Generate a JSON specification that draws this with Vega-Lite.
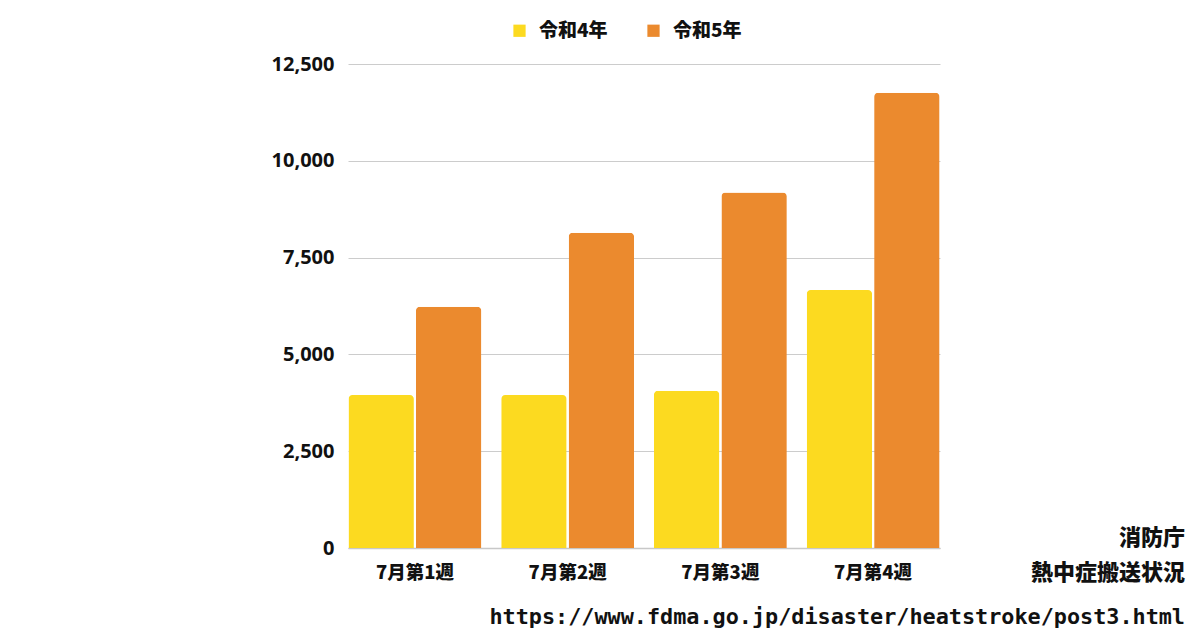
{
  "$schema": "https://vega.github.io/schema/vega-lite/v6.json",
  "autosize": "none",
  "width": 592,
  "height": 484,
  "padding": {"left": 348, "top": 64, "right": 260, "bottom": 82},
  "background": "white",
  "config": {
    "font": "Noto Sans CJK JP",
    "view": {"stroke": null}
  },
  "title": {
    "text": ["消防庁", "熱中症搬送状況"],
    "subtitle": "https://www.fdma.go.jp/disaster/heatstroke/post3.html",
    "orient": "bottom",
    "anchor": "end",
    "align": "right",
    "frame": "group",
    "dx": 245,
    "offset": -54,
    "font": "Noto Sans CJK JP",
    "fontSize": 22,
    "fontWeight": 900,
    "lineHeight": 35,
    "color": "#111111",
    "subtitleFont": "DejaVu Sans Mono",
    "subtitleFontSize": 21.8,
    "subtitleFontWeight": "bold",
    "subtitleColor": "#111111",
    "subtitlePadding": 22
  },
  "data": {
    "values": [
      {"week": "7月第1週", "year": "令和4年", "count": 3950},
      {"week": "7月第1週", "year": "令和5年", "count": 6230},
      {"week": "7月第2週", "year": "令和4年", "count": 3950},
      {"week": "7月第2週", "year": "令和5年", "count": 8140},
      {"week": "7月第3週", "year": "令和4年", "count": 4060},
      {"week": "7月第3週", "year": "令和5年", "count": 9180},
      {"week": "7月第4週", "year": "令和4年", "count": 6660},
      {"week": "7月第4週", "year": "令和5年", "count": 11760}
    ]
  },
  "mark": {"type": "bar", "cornerRadiusTopLeft": 4, "cornerRadiusTopRight": 4},
  "encoding": {
    "x": {
      "field": "week",
      "type": "nominal",
      "sort": null,
      "scale": {"paddingInner": 0.13, "paddingOuter": 0.003},
      "axis": {
        "title": null,
        "labelAngle": 0,
        "labelFontSize": 18.5,
        "labelFontWeight": 900,
        "labelColor": "#111111",
        "labelPadding": 15,
        "ticks": false,
        "domain": true,
        "domainColor": "#c8c8c8",
        "domainWidth": 1.5
      }
    },
    "xOffset": {"field": "year", "type": "nominal", "scale": {"paddingInner": 0.03}},
    "y": {
      "field": "count",
      "type": "quantitative",
      "scale": {"domain": [0, 12500]},
      "axis": {
        "title": null,
        "values": [0, 2500, 5000, 7500, 10000, 12500],
        "format": ",d",
        "labelFont": "Open Sans",
        "labelFontSize": 20,
        "labelFontWeight": "bold",
        "labelColor": "#111111",
        "labelPadding": 14,
        "ticks": false,
        "domain": false,
        "gridColor": "#cccccc",
        "gridWidth": 1
      }
    },
    "color": {
      "field": "year",
      "type": "nominal",
      "scale": {"domain": ["令和4年", "令和5年"], "range": ["#FCDA20", "#EB8A2E"]},
      "legend": {
        "title": null,
        "orient": "none",
        "legendX": 162,
        "legendY": -43,
        "direction": "horizontal",
        "symbolType": "square",
        "symbolSize": 150,
        "symbolStrokeWidth": 0,
        "labelFontSize": 19,
        "labelFontWeight": 900,
        "labelColor": "#111111",
        "labelOffset": 10,
        "columnPadding": 36
      }
    }
  }
}
